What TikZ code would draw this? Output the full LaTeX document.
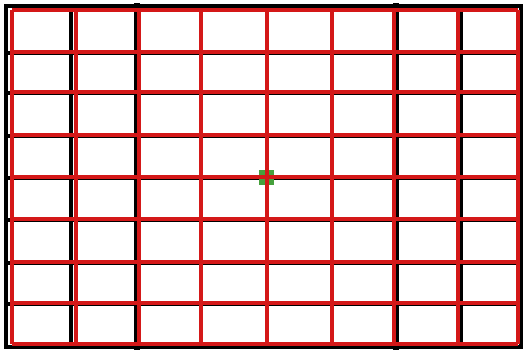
\documentclass[tikz,border=0pt]{standalone}
\definecolor{fitred}{RGB}{212,24,24}
\definecolor{markgreen}{RGB}{70,160,60}
\begin{document}
\begin{tikzpicture}[x=1pt,y=-1pt,
		gridline/.style={draw=black,line cap=rect},
		fitline/.style={draw=fitred,line width=3.2pt},
		centremark/.style={fill=markgreen}]
	\useasboundingbox (0,0) rectangle (524,352);
	% printed grid
	\foreach \x/\w in {6/4.5,71/4,137/6,201/4,267/4,332/4,396/6,461/4,521/4}
		\draw[gridline,line width=\w pt] (\x,6) -- (\x,347);
	\foreach \y/\w in {6/4.5,53/4,93/4,136/4,178/4,220/4,263/4,304/4,347/4.5}
		\draw[gridline,line width=\w pt] (6,\y) -- (521,\y);
	% detected centre
	\fill[centremark] (259,170) rectangle (274,185);
	% fitted grid
	\foreach \x in {12,76,139,201,267,332,394,458,518}
		\draw[fitline] (\x,10) -- (\x,344);
	\foreach \y in {10,52,92,135,177,219,262,303,344}
		\draw[fitline] (12,\y) -- (518,\y);
\end{tikzpicture}
\end{document}
